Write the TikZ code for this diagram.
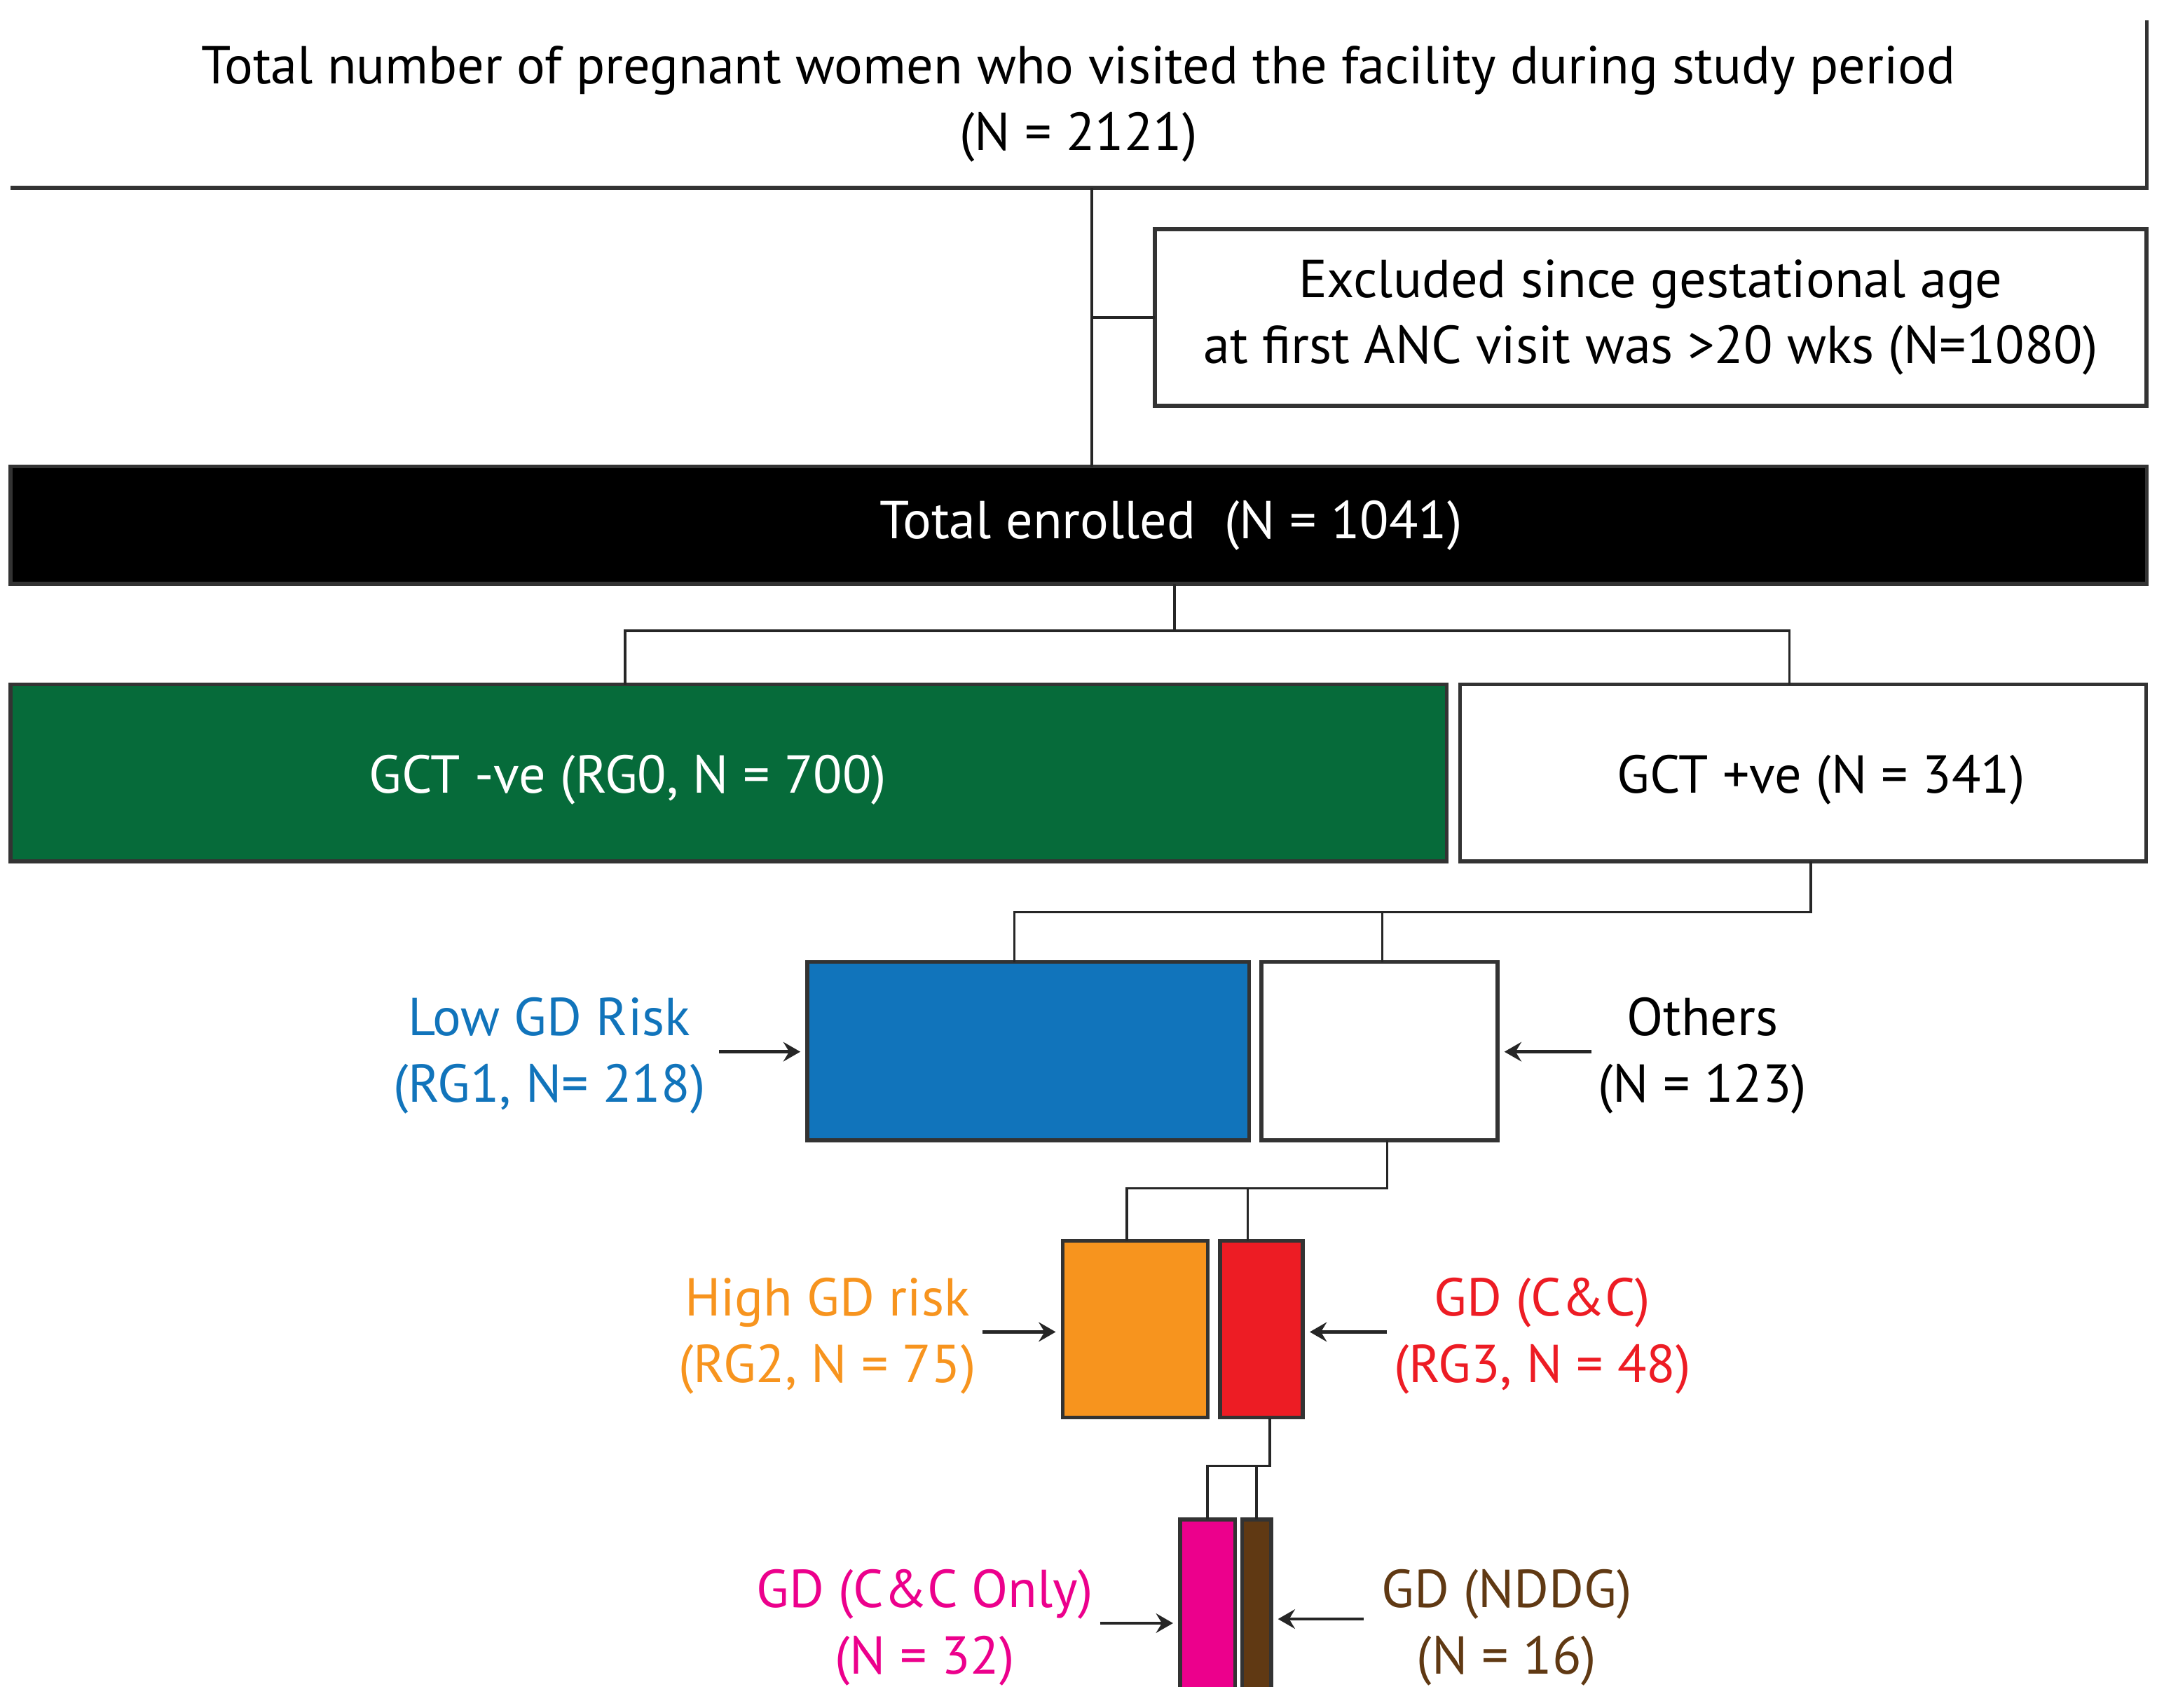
\documentclass[tikz,border=0pt]{standalone}
\usepackage{fontspec}
\setmainfont{PT Sans}
\usetikzlibrary{arrows.meta,positioning}

\definecolor{negGreen}{HTML}{066B3A}
\definecolor{lowBlue}{HTML}{1174BB}
\definecolor{highOrange}{HTML}{F7941E}
\definecolor{ccRed}{HTML}{ED1C24}
\definecolor{onlyPink}{HTML}{EC008C}
\definecolor{nddgBrown}{HTML}{603913}

\begin{document}
\begin{tikzpicture}[x=0.01cm, y=-0.01cm, font=\fontsize{11}{13.7}\selectfont,
        every node/.style={align=center, inner sep=0pt, outer sep=0pt},
        box/.style={draw=black!80, line width=0.8pt},
        conn/.style={draw=black!85, line width=0.5pt},
        arrow/.style={draw=black!85, line width=0.7pt, -{Stealth[length=3.5pt, width=4pt, inset=1.2pt]}, shorten >=0.05cm}]
        \path[use as bounding box, fill=white] (0,0) rectangle (1568,1237);

        % boxes
        \node[minimum width=15.47cm, minimum height=1.21cm] (total) at (781.5,75.5) {Total number of pregnant women who visited the facility during study period\\(N = 2121)};
        \draw[box] (total.north east) -- (total.south east) -- (total.south west);
        \node[box, minimum width=7.18cm, minimum height=1.28cm] (excl) at (1196,230) {Excluded since gestational age\\at first ANC visit was >20 wks (N=1080)};
        \node[box, fill=black, minimum width=15.47cm, minimum height=0.85cm] (enrolled) at (781.5,380.5) {};
        \node[text=white] (enrolledtxt) at ([xshift=0.67cm]enrolled.center) {Total enrolled\ \ (N = 1041)};
        \node[box, fill=negGreen, minimum width=10.40cm, minimum height=1.28cm] (neg) at (528,560) {};
        \node[text=white] (negtxt) at ([xshift=-0.73cm, yshift=-0.05cm]neg.center) {GCT -ve (RG0, N = 700)};
        \node[box, minimum width=4.97cm, minimum height=1.28cm] (pos) at (1306.5,560) {};
        \node (postxt) at ([xshift=0.13cm, yshift=-0.05cm]pos.center) {GCT +ve (N = 341)};
        \node[box, fill=lowBlue, minimum width=3.20cm, minimum height=1.29cm] (low) at (745,761.5) {};
        \node[box, minimum width=1.71cm, minimum height=1.29cm] (others) at (999.5,761.5) {};
        \node[box, fill=highOrange, minimum width=1.05cm, minimum height=1.28cm] (high) at (822.5,963) {};
        \node[box, fill=ccRed, minimum width=0.60cm, minimum height=1.28cm] (cc) at (914,963) {};
        \node[fill=onlyPink, minimum width=0.40cm, minimum height=1.21cm] (only) at (875,1161.5) {};
        \node[fill=nddgBrown, minimum width=0.21cm, minimum height=1.21cm] (nddg) at (910.5,1161.5) {};
        \draw[box] (only.south west) -- (only.north west) -- (only.north east) -- (only.south east);
        \draw[box] (nddg.south west) -- (nddg.north west) -- (nddg.north east) -- (nddg.south east);

        % side labels
        \node[text=lowBlue, anchor=east, inner xsep=0.1cm] (lowlbl) at (521,765) {Low GD Risk\\(RG1, N= 218)};
        \node[anchor=west, inner xsep=0.05cm] (otherslbl) at (1153,765) {Others\\(N = 123)};
        \node[text=highOrange, anchor=east, inner xsep=0.05cm] (highlbl) at (712,968) {High GD risk\\(RG2, N = 75)};
        \node[text=ccRed, anchor=west, inner xsep=0.05cm] (cclbl) at (1005,968) {GD (C\&C)\\(RG3, N = 48)};
        \node[text=onlyPink, anchor=east, inner xsep=0.05cm] (onlylbl) at (797,1179) {GD (C\&C Only)\\(N = 32)};
        \node[text=nddgBrown, anchor=west, inner xsep=0.13cm] (nddglbl) at (988,1179) {GD (NDDG)\\(N = 16)};

        % connectors
        \coordinate (j1) at (791,230);
        \draw[conn] (total.south -| j1) -- (enrolled.north -| j1);
        \draw[conn] (j1) -- (excl.west);
        \coordinate (j2) at (851,457);
        \draw[conn] (enrolled.south -| j2) -- (j2);
        \draw[conn] ([xshift=-0.75cm]neg.north) |- (j2) -| ([xshift=-0.1cm]pos.north);
        \coordinate (j3) at (1312,661);
        \draw[conn] (pos.south -| j3) -- (j3) -| ([xshift=-0.1cm]low.north);
        \draw[conn] (j3) -| ([xshift=0.02cm]others.north);
        \coordinate (j4) at (1005,861);
        \draw[conn] (others.south -| j4) -- (j4) -| ([xshift=-0.06cm]high.north);
        \draw[conn] (j4) -| ([xshift=-0.1cm]cc.north);
        \coordinate (j5) at (920,1062);
        \draw[conn] (cc.south -| j5) -- (j5) -| (only.north);
        \draw[conn] (j5) -| (nddg.north);

        % arrows
        \draw[arrow] ([yshift=0.03cm]lowlbl.east) -- ([yshift=0.03cm]lowlbl.east -| low.west);
        \draw[arrow] ([yshift=0.03cm]otherslbl.west) -- ([yshift=0.03cm]otherslbl.west -| others.east);
        \draw[arrow] ([yshift=0.03cm]highlbl.east) -- ([yshift=0.03cm]highlbl.east -| high.west);
        \draw[arrow] ([yshift=0.03cm]cclbl.west) -- ([yshift=0.03cm]cclbl.west -| cc.east);
        \draw[arrow] ([yshift=0.03cm]onlylbl.east) -- ([yshift=0.03cm]onlylbl.east -| only.west);
        \draw[arrow] ([yshift=0.06cm]nddglbl.west) -- ([yshift=0.06cm]nddglbl.west -| nddg.east);
    \end{tikzpicture}
\end{document}
